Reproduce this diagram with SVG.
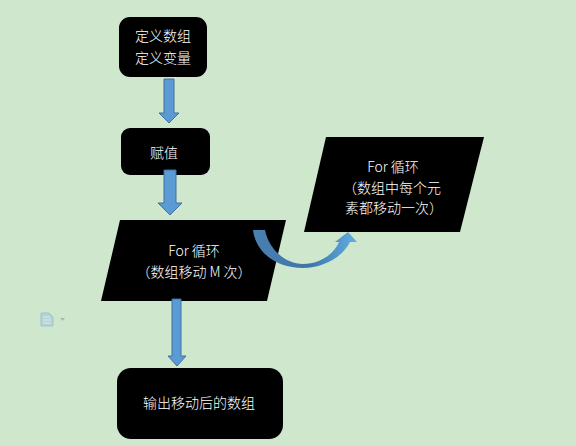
<svg xmlns="http://www.w3.org/2000/svg" width="576" height="446" viewBox="0 0 576 446">
<defs>
<linearGradient id="curve" x1="0" y1="0" x2="1" y2="0"><stop offset="0" stop-color="#4a80b0"/><stop offset="0.55" stop-color="#3d76aa"/><stop offset="1" stop-color="#62aee6"/></linearGradient>
</defs>
<style>
.n{fill:#000}
.a{fill:#5b9bd5;stroke:#41719c;stroke-width:1}
text{fill:#fff;font-family:"Noto Sans CJK SC","Liberation Sans",sans-serif;font-size:14px;text-anchor:middle;font-weight:300}
</style>
<rect width="576" height="446" fill="#cfe8cd"/>
<g id="nodes">
<g id="n1"><rect class="n" x="119" y="17" width="88" height="60" rx="11"/><text x="163" y="41">定义数组</text><text x="163" y="63">定义变量</text></g>
<g id="n2"><rect class="n" x="121" y="128" width="89" height="47" rx="9"/><text x="164" y="158">赋值</text></g>
<g id="n3"><polygon class="n" points="120,220 286,220 267,301 101,301"/><text x="194" y="256" font-size="13">For 循环</text><text x="194" y="277">（数组移动 M 次）</text></g>
<g id="n4"><polygon class="n" points="326,137 484,137 460,232 304,232"/><text x="393" y="172">For 循环</text><text x="392" y="193">（数组中每个元</text><text x="394" y="213">素都移动一次）</text></g>
<g id="n5"><rect class="n" x="117" y="368" width="166" height="71" rx="14"/><text x="199" y="408">输出移动后的数组</text></g>
</g>
<g id="connectors">
<polygon class="a" points="164,79 174,79 174,113 179,113 169,123 159,113 164,113"/>
<polygon class="a" points="164,170 176,170 176,203 182,203 170,215 158,203 164,203"/>
<polygon class="a" points="172,299 181,299 181,356 186,356 177,366 168,356 172,356"/>
<path d="M253,230 L265,230 C269,250 286,264 303,264 C320,264 334,254 339,242 L335,242 L348,232 L357,242 L350,242 C342,258 322,268 303,268 C278,268 256,254 253,230 Z" fill="url(#curve)"/>
</g>
<g id="icon" opacity="0.65">
<path d="M41,313 L49,313 L53,317 L53,326 L41,326 Z" fill="#a9c6de" stroke="#8fb0cc"/>
<path d="M43,317 H50 M43,320 H51 M43,323 H51" stroke="#e4eef2" stroke-width="1"/>
<path d="M60,318 L65,318 L62.500,321 Z" fill="#93a59a"/>
</g>
</svg>
